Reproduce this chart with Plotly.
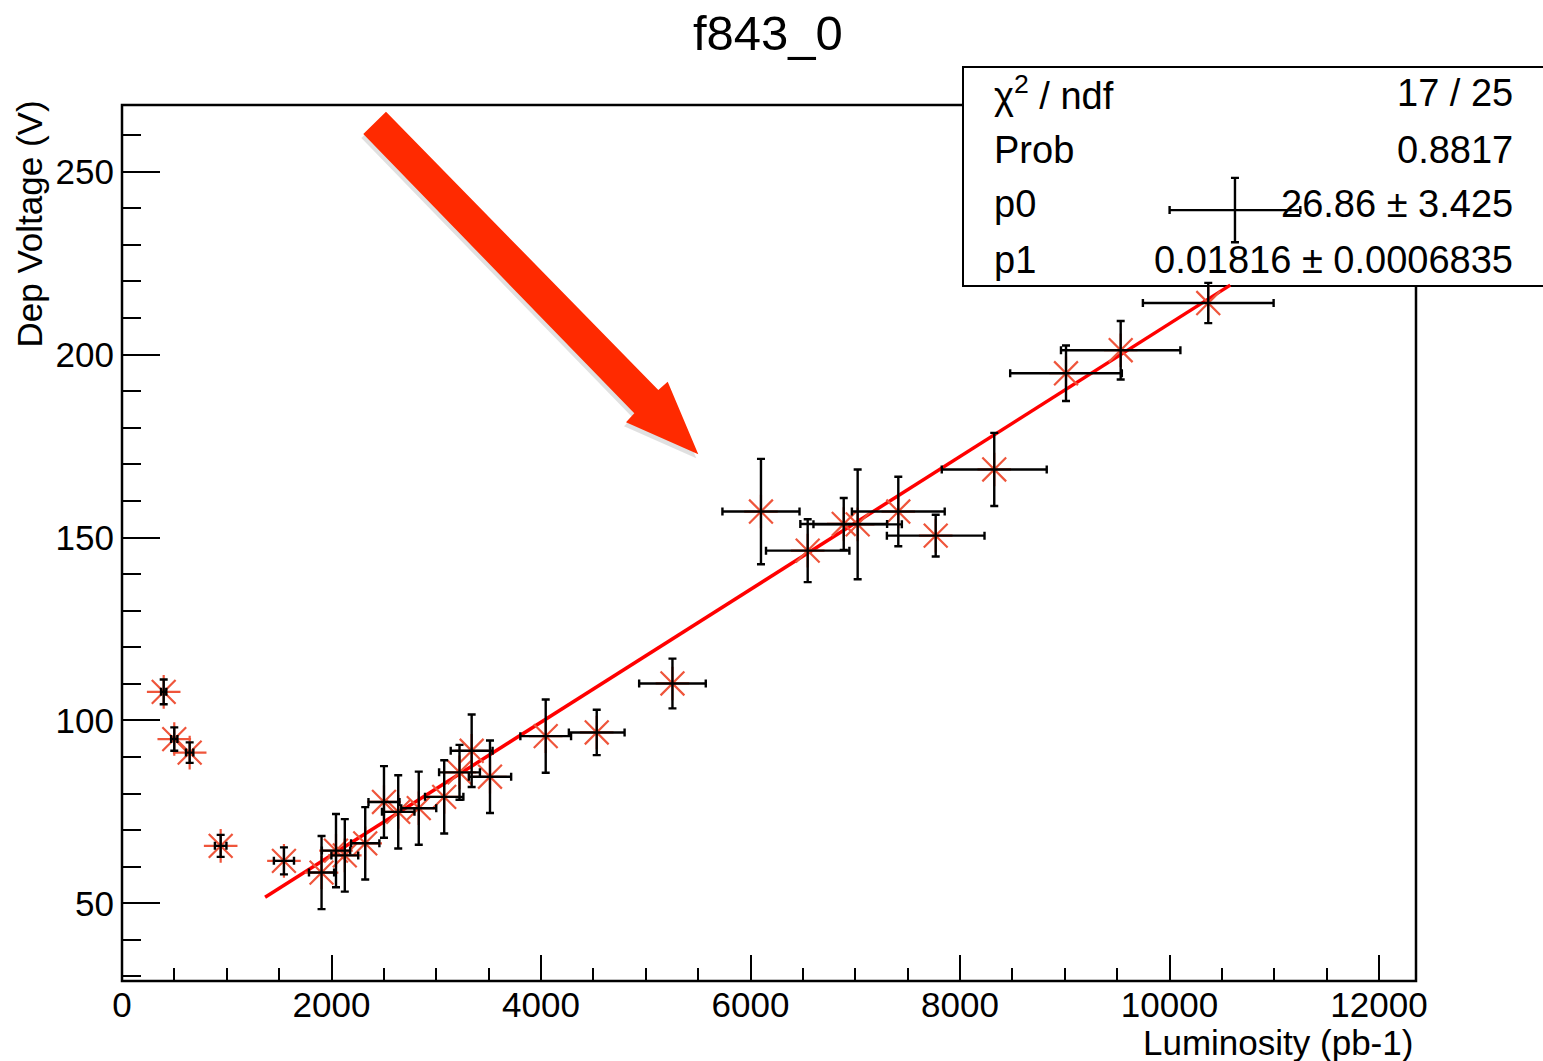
import numpy as np
import plotly.graph_objects as go

# ---- data ----
lumi = [398, 499, 646, 942, 1546, 1905, 2043, 2127, 2322, 2501, 2637, 2833, 3076, 3222,
        3338, 3513, 4045, 4532, 5255, 6100, 6546, 6890, 7023, 7411, 7768, 8327, 9012,
        9534, 10370]
lumi_err = [25, 30, 35, 55, 96, 120, 135, 128, 135, 148, 155, 167, 183, 195,
            200, 202, 242, 266, 318, 368, 398, 414, 422, 443, 466, 501, 533,
            570, 624]
volt = [107.8, 94.9, 91.2, 65.7, 61.6, 58.4, 64.4, 63.1, 66.4, 77.7, 75.0, 76.0, 79.1, 85.8,
        91.7, 84.6, 95.7, 96.7, 110.1, 157.1, 146.4, 153.7, 153.6, 157.1, 150.5, 168.6, 194.9,
        201.2, 214.1]
volt_err = [3.4, 3.2, 2.8, 3.0, 3.7, 10, 10, 9.9, 9.9, 9.8, 10, 10, 10, 7.5,
            9.9, 9.9, 10, 6.2, 6.8, 14.4, 8.6, 7.1, 15, 9.5, 5.7, 10, 7.6,
            8.0, 5.5]

# extra point drawn over the stats box (error bars only)
extra_lumi = [10625]
extra_lumi_err = [624]
extra_volt = [239.5]
extra_volt_err = [8.8]

# fit parameters
p0 = 26.86
p1 = 0.01816
fit_range = [1366, 10580]

x_tickvals = [0, 2000, 4000, 6000, 8000, 10000, 12000]
x_ticktext = ["0", "2000", "4000", "6000", "8000", "10000", "12000"]
y_tickvals = [50, 100, 150, 200, 250]
y_ticktext = ["50", "100", "150", "200", "250"]

stats_labels = ["χ<sup>2</sup> / ndf", "Prob", "p0", "p1"]
stats_values = ["17 / 25", "0.8817", "26.86 ± 3.425", "0.01816 ± 0.0006835"]

title_text = "f843_0"
x_title = "Luminosity (pb-1)"
y_title = "Dep Voltage (V)"

# ---- layout geometry ----
W, H = 1543, 1061
L, R, T, B = 122, 1416, 105, 981
FONT = "Liberation Sans, Arial, Helvetica, sans-serif"


def px(x):
    return (x - L) / (R - L)


def py(y):
    return (B - y) / (B - T)


fig = go.Figure()

fx = np.linspace(fit_range[0], fit_range[1], 50)
fig.add_trace(go.Scatter(x=fx, y=p0 + p1 * fx, mode="lines",
                         line=dict(color="#ff0000", width=3.5),
                         showlegend=False, hoverinfo="skip"))

fig.add_trace(go.Scatter(x=lumi, y=volt, mode="markers",
                         marker=dict(symbol="asterisk-open", size=28,
                                     line=dict(color="#ff0000", width=2.2)),
                         showlegend=False))

fig.add_trace(go.Scatter(x=lumi, y=volt, mode="markers",
                         marker=dict(size=2, color="black", opacity=0),
                         error_x=dict(type="data", array=lumi_err, color="black",
                                      thickness=2.4, width=4),
                         error_y=dict(type="data", array=volt_err, color="black",
                                      thickness=2.4, width=4),
                         showlegend=False, hoverinfo="skip"))

fig.add_trace(go.Scatter(x=extra_lumi, y=extra_volt, mode="markers",
                         marker=dict(size=2, color="black", opacity=0),
                         error_x=dict(type="data", array=extra_lumi_err, color="black",
                                      thickness=2.4, width=4),
                         error_y=dict(type="data", array=extra_volt_err, color="black",
                                      thickness=2.4, width=4),
                         showlegend=False, hoverinfo="skip"))

x_max = (R - L) / 0.10475
y_per_px = 3.658
y_min = 50 - (B - 903.3) / y_per_px
y_max = 250 + (171.7 - T) / y_per_px

fig.update_xaxes(range=[0, x_max], showgrid=False, zeroline=False, showline=False,
                 tickmode="array", tickvals=x_tickvals, ticktext=x_ticktext,
                 ticks="inside", ticklen=26, tickwidth=2, tickcolor="black",
                 minor=dict(dtick=500, tick0=0, ticks="inside", ticklen=13,
                            tickwidth=2, tickcolor="black"),
                 tickfont=dict(family=FONT, size=35, color="black"))
fig.update_yaxes(range=[y_min, y_max], showgrid=False, zeroline=False, showline=False,
                 tickmode="array", tickvals=y_tickvals, ticktext=y_ticktext,
                 ticks="inside", ticklen=38, tickwidth=2, tickcolor="black",
                 ticklabelstandoff=7,
                 minor=dict(dtick=10, tick0=0, ticks="inside", ticklen=19,
                            tickwidth=2, tickcolor="black"),
                 tickfont=dict(family=FONT, size=35, color="black"))

shapes = [
    # plot frame
    dict(type="rect", xref="paper", yref="paper", x0=0, y0=0, x1=1, y1=1,
         line=dict(color="black", width=2.5), layer="below"),
    # stats box
    dict(type="rect", xref="paper", yref="paper", x0=px(963), x1=px(1560),
         y0=py(286), y1=py(67), fillcolor="white",
         line=dict(color="black", width=2), layer="below"),
]

arrow_pts = [(386, 111.7), (363.3, 134), (634.3, 413.3), (626, 422.3),
             (698.3, 454.3), (667.7, 381.7), (658.3, 390)]


def path_from(pts, dx=0, dy=0):
    s = "M " + " L ".join(f"{px(x + dx):.5f},{py(y + dy):.5f}" for x, y in pts) + " Z"
    return s


shapes.append(dict(type="path", xref="paper", yref="paper",
                   path=path_from(arrow_pts, -2, 4), fillcolor="rgba(0,0,0,0.12)",
                   line=dict(width=0), layer="above"))
shapes.append(dict(type="path", xref="paper", yref="paper",
                   path=path_from(arrow_pts), fillcolor="#ff2a00",
                   line=dict(width=0), layer="above"))

annotations = [
    dict(text=title_text, xref="paper", yref="paper", x=px(768), y=py(33),
         xanchor="center", yanchor="middle", showarrow=False,
         font=dict(family=FONT, size=49, color="black")),
    dict(text=x_title, xref="paper", yref="paper", x=px(1415), y=py(1042),
         xanchor="right", yanchor="middle", showarrow=False,
         font=dict(family=FONT, size=35, color="black")),
    dict(text=y_title, xref="paper", yref="paper", x=px(29), y=py(99),
         xanchor="center", yanchor="top", showarrow=False, textangle=-90,
         font=dict(family=FONT, size=35, color="black")),
]

row_y = [93, 150, 204, 260]
for lab, val, ry in zip(stats_labels, stats_values, row_y):
    annotations.append(dict(text=lab, xref="paper", yref="paper", x=px(992), y=py(ry),
                            xanchor="left", yanchor="middle", showarrow=False,
                            font=dict(family=FONT, size=38, color="black")))
    annotations.append(dict(text=val, xref="paper", yref="paper", x=px(1515), y=py(ry),
                            xanchor="right", yanchor="middle", showarrow=False,
                            font=dict(family=FONT, size=38, color="black")))

fig.update_layout(width=W, height=H,
                  margin=dict(l=L, r=W - R, t=T, b=H - B, pad=0),
                  paper_bgcolor="white", plot_bgcolor="rgba(0,0,0,0)",
                  shapes=shapes, annotations=annotations, showlegend=False)

fig.write_html("out.html")
